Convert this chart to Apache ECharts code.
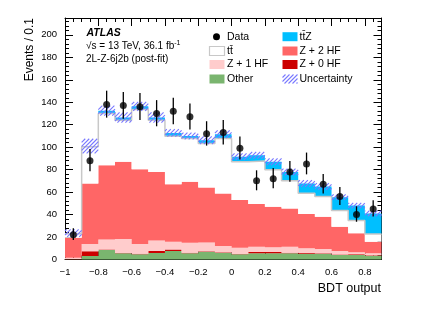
<!DOCTYPE html>
<html><head><meta charset="utf-8">
<script src="https://cdn.jsdelivr.net/npm/echarts@6/dist/echarts.min.js"></script>
<style>html,body{margin:0;padding:0;background:#fff}#c{width:432px;height:310px}</style>
</head><body><div id="c"></div>
<script>
// ---- data ----
const binEdges = [-1.0,-0.9,-0.8,-0.7,-0.6,-0.5,-0.4,-0.3,-0.2,-0.1,0.0,0.1,0.2,0.3,0.4,0.5,0.6,0.7,0.8,0.9];
const other    = [0.3, 3.1, 8.4, 5.5, 4.6, 5.8, 7.6, 5.5, 7.0, 6.1, 4.6, 5.5, 5.5, 5.5, 5.2, 5.2, 4.0, 4.0, 3.4];
const zPlus0HF = [0.2, 4.2, 0.6, 0.3, 0.5, 1.8, 1.2, 0.4, 0.3, 0.3, 0.3, 1.2, 1.2, 0.6, 0.5, 0.3, 0.4, 0.6, 0.3];
const zPlus1HF = [1.0, 6.5, 8.9, 12.4, 8.7, 9.4, 7.0, 9.0, 7.9, 5.6, 5.6, 4.7, 4.2, 5.3, 4.3, 3.8, 3.2, 1.8, 1.8];
const zPlus2HF = [17.9, 53.9, 66.1, 68.8, 66.6, 61.0, 51.3, 54.3, 48.9, 46.8, 42.4, 37.9, 36.1, 34.1, 30.4, 28.7, 21.6, 16.9, 10.4];
const ttbar    = [3.5, 32.7, 46.0, 37.0, 53.1, 46.0, 42.7, 38.5, 39.2, 48.9, 34.1, 38.5, 32.8, 24.5, 18.6, 18.0, 14.5, 11.5, 6.8];
const ttZ      = [0.6, 0.6, 2.5, 2.4, 2.9, 2.4, 2.9, 2.3, 2.9, 3.8, 4.4, 5.1, 7.2, 8.0, 8.7, 9.0, 11.8, 13.2, 18.3];
const uncertainty = [3.3, 6.5, 4.5, 4.5, 4.0, 4.5, 3.3, 3.0, 3.5, 3.5, 3.0, 3.0, 3.0, 3.0, 3.0, 3.0, 2.5, 2.5, 2.5];
const dataVals  = [22, 88, 138, 137, 136, 130, 132, 127, 112, 113, 99, 70, 72, 78, 85, 67, 56, 40, 45];
const dataErrHi = [5.8, 10.4, 12.3, 12.2, 12.2, 11.9, 12.0, 11.8, 11.1, 11.1, 10.5, 9.4, 9.5, 9.8, 10.2, 9.2, 8.5, 7.4, 7.7];
const dataErrLo = [4.7, 9.4, 11.7, 11.7, 11.7, 11.4, 11.5, 11.3, 10.6, 10.6, 9.9, 8.4, 8.5, 8.8, 9.2, 8.2, 7.5, 6.4, 6.7];
const xTicks = { min: -1, max: 0.9, interval: 0.2 };
const yTicks = { min: 0, max: 215, interval: 20 };

const layers = [
  { name: 'Other',    vals: other,    color: '#7ab56f' },
  { name: 'Z + 0 HF', vals: zPlus0HF, color: '#cc0000' },
  { name: 'Z + 1 HF', vals: zPlus1HF, color: '#ffcccc' },
  { name: 'Z + 2 HF', vals: zPlus2HF, color: '#ff6666' },
  { name: 'tt\u0304', vals: ttbar,    color: '#ffffff' },
  { name: 'tt\u0304Z', vals: ttZ,     color: '#00bfff' }
];

const FONT = '"Liberation Sans", Arial, Helvetica, sans-serif';
const HATCH_COLOR = '#7878ff';
const HATCH_STEP = 4;

// diagonal "///" hatch segments clipped to a pixel rectangle
function hatchLines(x0, y0, x1, y1) {
  const out = [];
  const cStart = Math.ceil((x0 + y0) / HATCH_STEP) * HATCH_STEP;
  for (let c = cStart; c <= x1 + y1; c += HATCH_STEP) {
    const ya = Math.max(y0, c - x1), yb = Math.min(y1, c - x0);
    if (yb - ya < 0.2) continue;
    out.push({ type: 'line', shape: { x1: c - ya, y1: ya, x2: c - yb, y2: yb },
      style: { stroke: HATCH_COLOR, lineWidth: 1.1, opacity: 1 } });
  }
  return out;
}

// cumulative stack
const nb = binEdges.length - 1;
const cum = new Array(nb).fill(0);
const series = [];
const ttTop = [];
layers.forEach((L) => {
  const d = [];
  const bots = [], tops = [];
  for (let i = 0; i < nb; i++) {
    const b = cum[i];
    cum[i] += L.vals[i];
    bots.push(b); tops.push(cum[i]);
    d.push([binEdges[i], binEdges[i + 1], b, cum[i]]);
    if (L.vals === ttbar) ttTop.push(cum[i]);
  }
  series.push({
    type: 'custom', name: L.name, z: 1, silent: true,
    encode: { x: [0, 1], y: [2, 3] },
    data: d,
    renderItem: (params, api) => {
      if (params.dataIndex !== 0) return null;
      const pts = [];
      for (let i = 0; i < nb; i++) {
        pts.push(api.coord([binEdges[i], tops[i]]));
        pts.push(api.coord([binEdges[i + 1], tops[i]]));
      }
      for (let i = nb - 1; i >= 0; i--) {
        pts.push(api.coord([binEdges[i + 1], bots[i]]));
        pts.push(api.coord([binEdges[i], bots[i]]));
      }
      return { type: 'polygon', shape: { points: pts }, style: { fill: L.color } };
    }
  });
});
const total = cum.slice();

// ttbar outline (grey step line)
const outline = [];
for (let i = 0; i < nb; i++) outline.push([binEdges[i], ttTop[i]]);
outline.push([binEdges[nb], ttTop[nb - 1]]);
series.push({ type: 'line', step: 'end', data: outline, symbol: 'none', z: 2, silent: true,
  lineStyle: { color: '#c8c8c8', width: 1.5 } });

// uncertainty band (hatched)
const uncData = [];
for (let i = 0; i < nb; i++) uncData.push([binEdges[i], binEdges[i + 1], total[i] - uncertainty[i], total[i] + uncertainty[i]]);
series.push({ type: 'custom', name: 'Uncertainty', z: 3, silent: true,
  itemStyle: { color: HATCH_COLOR },
  encode: { x: [0, 1], y: [2, 3] }, data: uncData,
  renderItem: (params, api) => {
    const p0 = api.coord([api.value(0), api.value(3)]);
    const p1 = api.coord([api.value(1), api.value(2)]);
    return { type: 'group', children: hatchLines(p0[0], p0[1], p1[0], p1[1]) };
  }
});

// data error bars
const errData = [];
const ptData = [];
for (let i = 0; i < nb; i++) {
  const xc = (binEdges[i] + binEdges[i + 1]) / 2;
  errData.push([xc, dataVals[i] - dataErrLo[i], dataVals[i] + dataErrHi[i]]);
  ptData.push([xc, dataVals[i]]);
}
series.push({ type: 'custom', name: 'DataErr', z: 4, silent: true,
  encode: { x: 0, y: [1, 2] }, data: errData,
  renderItem: (params, api) => {
    const a = api.coord([api.value(0), api.value(1)]);
    const b = api.coord([api.value(0), api.value(2)]);
    return { type: 'line', shape: { x1: a[0], y1: a[1], x2: b[0], y2: b[1] },
      style: { stroke: '#000', lineWidth: 1.3 } };
  }
});
series.push({ type: 'scatter', name: 'Data', z: 5, data: ptData, symbol: 'circle', symbolSize: 7,
  itemStyle: { color: '#000' }, silent: true });

function axisCommon(isX, pos, showLabel) {
  const t = isX ? xTicks : yTicks;
  return {
    type: 'value', position: pos, min: t.min, max: t.max, interval: t.interval,
    axisLine: { show: true, onZero: false, lineStyle: { color: '#000', width: 1 } },
    axisTick: { show: true, inside: true, length: 8, lineStyle: { color: '#000', width: 1 } },
    minorTick: { show: true, splitNumber: isX ? 4 : 5, length: 4, lineStyle: { color: '#000', width: 1 } },
    splitLine: { show: false },
    axisLabel: {
      show: showLabel, color: '#000', fontFamily: FONT, fontSize: 9.5,
      margin: 8, showMaxLabel: false,
      formatter: v => {
        if (isX) {
          if (Math.abs(v - 0.9) < 1e-6) return '';
          const r = Math.round(v * 10) / 10;
          return (r < 0 ? '\u2212' : '') + String(Math.abs(r));
        }
        if (v % 20 !== 0) return '';
        return String(v);
      }
    }
  };
}

const legendRows = [36.7, 51, 64.5, 79];
const g = [];
function box(x, y, fill, stroke) {
  g.push({ type: 'rect', shape: { x: x, y: y - 4.5, width: 15, height: 9 },
    style: { fill: fill, stroke: stroke || null, lineWidth: stroke ? 1.2 : 0 }, z: 10 });
}
function txt(x, y, s, opts) {
  g.push({ type: 'text', x: x, y: y, z: 10,
    style: Object.assign({ text: s, fill: '#000', font: '10.5px ' + FONT, textAlign: 'left', textVerticalAlign: 'middle' }, opts || {}) });
}
// column 1
g.push({ type: 'circle', shape: { cx: 216.5, cy: legendRows[0], r: 3.5 }, style: { fill: '#000' }, z: 10 });
txt(227, legendRows[0], 'Data');
box(209.5, legendRows[1], '#ffffff', '#c8c8c8'); txt(227, legendRows[1], 'tt\u0304');
box(209.5, legendRows[2], '#ffcccc'); txt(227, legendRows[2], 'Z + 1 HF');
box(209.5, legendRows[3], '#7ab56f'); txt(227, legendRows[3], 'Other');
// column 2
box(282.5, legendRows[0], '#00bfff'); txt(299.5, legendRows[0], 'tt\u0304Z');
box(282.5, legendRows[1], '#ff6666'); txt(299.5, legendRows[1], 'Z + 2 HF');
box(282.5, legendRows[2], '#cc0000'); txt(299.5, legendRows[2], 'Z + 0 HF');
g.push({ type: 'group', z: 10, children: hatchLines(282.5, legendRows[3] - 4.5, 297.5, legendRows[3] + 4.5) });
txt(299.5, legendRows[3], 'Uncertainty');
// ATLAS labels
txt(86.5, 33, 'ATLAS', { font: 'italic bold 10.5px ' + FONT });
g.push({ type: 'text', x: 86, y: 45.5, z: 10, style: {
  text: '{a|\u221As = 13 TeV, 36.1 fb}{s|-1}', fill: '#000', textVerticalAlign: 'middle',
  rich: { a: { fontFamily: FONT, fontSize: 10, lineHeight: 12, verticalAlign: 'bottom' },
          s: { fontFamily: FONT, fontSize: 7, lineHeight: 12, verticalAlign: 'top', padding: [0, 0, 4, 0] } } } });
txt(86, 59.5, '2L-Z-6j2b (post-fit)', { font: '10px ' + FONT });
// axis titles
g.push({ type: 'text', x: 381, y: 289, z: 10, style: { text: 'BDT output', fill: '#000', font: '12.5px ' + FONT, textAlign: 'right', textVerticalAlign: 'middle' } });
g.push({ type: 'text', x: 30, y: 18, rotation: Math.PI / 2, z: 10, style: { text: 'Events / 0.1', fill: '#000', font: '12px ' + FONT, textAlign: 'right', textVerticalAlign: 'middle' } });

const chart = echarts.init(document.getElementById('c'), null, { renderer: 'canvas' });
chart.setOption({
  animation: false,
  backgroundColor: '#fff',
  grid: { left: 65, right: 50.5, top: 18, bottom: 50.5, containLabel: false },
  xAxis: [axisCommon(true, 'bottom', true), axisCommon(true, 'top', false)],
  yAxis: [axisCommon(false, 'left', true), axisCommon(false, 'right', false)],
  series: series,
  graphic: g
});
</script></body></html>
